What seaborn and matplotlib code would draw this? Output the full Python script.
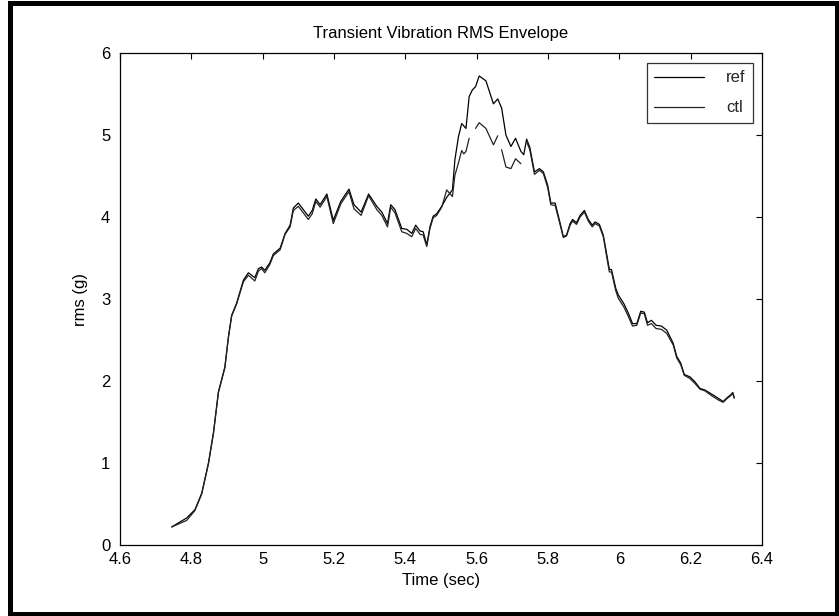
import numpy as np
import pandas as pd
import matplotlib
matplotlib.use("Agg")
import matplotlib.pyplot as plt
from matplotlib.lines import Line2D
from matplotlib.patches import Rectangle
import seaborn as sns

# ---- data ----
time = [4.745, 4.787, 4.810, 4.829, 4.848, 4.862, 4.876, 4.894, 4.904, 4.913,
        4.927, 4.946, 4.960, 4.978, 4.988, 4.997, 5.006, 5.020, 5.030, 5.049,
        5.063, 5.077, 5.086, 5.100, 5.128, 5.139, 5.149, 5.161, 5.180, 5.198,
        5.219, 5.242, 5.256, 5.276, 5.297, 5.320, 5.334, 5.350, 5.359, 5.371,
        5.390, 5.404, 5.418, 5.429, 5.441, 5.450, 5.460, 5.469, 5.478, 5.488,
        5.502, 5.516, 5.532, 5.539, 5.549, 5.558, 5.564, 5.570, 5.579, 5.588,
        5.597, 5.607, 5.626, 5.647, 5.659, 5.664, 5.670, 5.682, 5.696, 5.709,
        5.724, 5.732, 5.740, 5.749, 5.762, 5.776, 5.787, 5.799, 5.808, 5.820,
        5.832, 5.843, 5.852, 5.862, 5.869, 5.880, 5.890, 5.902, 5.913, 5.924,
        5.932, 5.944, 5.955, 5.964, 5.972, 5.978, 5.990, 5.997, 6.013, 6.025,
        6.037, 6.049, 6.060, 6.070, 6.079, 6.090, 6.103, 6.118, 6.133, 6.151,
        6.161, 6.172, 6.182, 6.198, 6.212, 6.226, 6.240, 6.259, 6.277, 6.291,
        6.303, 6.312, 6.318, 6.322]

ref = [0.22, 0.33, 0.43, 0.63, 1.00, 1.37, 1.87, 2.17, 2.54, 2.80,
       2.95, 3.23, 3.32, 3.26, 3.37, 3.39, 3.35, 3.44, 3.55, 3.62,
       3.80, 3.90, 4.11, 4.17, 4.01, 4.08, 4.22, 4.15, 4.28, 3.96,
       4.19, 4.34, 4.15, 4.06, 4.28, 4.13, 4.06, 3.92, 4.15, 4.09,
       3.86, 3.85, 3.80, 3.90, 3.83, 3.82, 3.66, 3.88, 4.01, 4.04,
       4.13, 4.24, 4.33, 4.70, 4.98, 5.14, 5.11, 5.08, 5.47, 5.55,
       5.59, 5.72, 5.66, 5.38, 5.44, 5.39, 5.33, 5.00, 4.86, 4.96,
       4.80, 4.76, 4.95, 4.85, 4.55, 4.59, 4.55, 4.39, 4.17, 4.17,
       3.96, 3.76, 3.78, 3.92, 3.97, 3.93, 4.02, 4.08, 3.97, 3.90,
       3.94, 3.91, 3.78, 3.56, 3.36, 3.36, 3.13, 3.05, 2.94, 2.83,
       2.70, 2.70, 2.85, 2.84, 2.71, 2.74, 2.68, 2.67, 2.62, 2.46,
       2.30, 2.22, 2.08, 2.05, 1.99, 1.91, 1.89, 1.84, 1.79, 1.75,
       1.80, 1.83, 1.86, 1.80]

nan = np.nan
ctl = [0.22, 0.30, 0.42, 0.62, 0.99, 1.36, 1.86, 2.16, 2.53, 2.79,
       2.94, 3.21, 3.29, 3.22, 3.34, 3.37, 3.32, 3.42, 3.53, 3.60,
       3.79, 3.88, 4.08, 4.13, 3.97, 4.04, 4.19, 4.12, 4.25, 3.92,
       4.16, 4.31, 4.10, 4.02, 4.26, 4.09, 4.02, 3.88, 4.12, 4.05,
       3.82, 3.80, 3.76, 3.86, 3.79, 3.78, 3.64, 3.86, 3.99, 4.02,
       4.12, 4.33, 4.25, 4.51, 4.66, 4.81, 4.77, 4.80, 4.96, nan,
       5.08, 5.15, 5.08, 4.88, 4.99, nan, 4.82, 4.61, 4.59, 4.71,
       4.65, nan, 4.92, 4.82, 4.52, 4.57, 4.53, 4.36, 4.15, 4.14,
       3.94, 3.75, 3.77, 3.90, 3.95, 3.91, 4.00, 4.06, 3.95, 3.88,
       3.92, 3.89, 3.76, 3.53, 3.33, 3.33, 3.10, 3.01, 2.90, 2.79,
       2.67, 2.68, 2.83, 2.82, 2.68, 2.70, 2.64, 2.63, 2.58, 2.44,
       2.28, 2.20, 2.07, 2.03, 1.97, 1.90, 1.88, 1.82, 1.77, 1.74,
       1.79, 1.82, 1.85, 1.79]

series_labels = ["ref", "ctl"]
title = "Transient Vibration RMS Envelope"
xlabel = "Time (sec)"
ylabel = "rms (g)"
xticks = [4.6, 4.8, 5.0, 5.2, 5.4, 5.6, 5.8, 6.0, 6.2, 6.4]
xticklabels = ["4.6", "4.8", "5", "5.2", "5.4", "5.6", "5.8", "6", "6.2", "6.4"]
yticks = [0, 1, 2, 3, 4, 5, 6]

# ---- build tidy frames ----
ref_df = pd.DataFrame({"time": time, "rms": ref})
ctl_arr = np.array(ctl, dtype=float)
seg = np.cumsum(np.isnan(ctl_arr))
ctl_df = pd.DataFrame({"time": time, "rms": ctl_arr, "seg": seg}).dropna()

sns.set_theme(style="white")
plt.rcParams["font.family"] = ["Liberation Sans", "DejaVu Sans"]

fs = 12
fig = plt.figure(figsize=(8.39, 6.16), dpi=100)
ax = fig.add_axes([120 / 839, 71 / 616, 642 / 839, 492 / 616])

lw = 0.9
sns.lineplot(data=ref_df, x="time", y="rms", ax=ax, color="black",
             linewidth=lw, estimator=None, sort=False)
sns.lineplot(data=ctl_df, x="time", y="rms", units="seg", ax=ax,
             color="#222222", linewidth=lw, estimator=None, sort=False)

ax.set_xlim(4.6, 6.4)
ax.set_ylim(0, 6)
ax.set_xticks(xticks)
ax.set_xticklabels(xticklabels)
ax.set_yticks(yticks)
ax.tick_params(direction="in", length=4.5, width=0.8, colors="black",
               labelsize=fs, top=True, right=True, pad=5)
ax.tick_params(axis="y", pad=7)
for sp in ax.spines.values():
    sp.set_visible(True)
    sp.set_color("black")
    sp.set_linewidth(0.9)

ax.set_title(title, fontsize=fs, pad=11, color="black")
ax.set_xlabel(xlabel, fontsize=fs, labelpad=4, color="black")
ax.set_ylabel(ylabel, fontsize=fs, labelpad=9, color="black")

handles = [Line2D([0], [0], color="black", lw=lw),
           Line2D([0], [0], color="#222222", lw=lw)]
leg = ax.legend(handles, series_labels, loc="upper right", fontsize=fs,
                frameon=True, fancybox=False, edgecolor="black",
                handlelength=3.0, handletextpad=1.3, borderpad=0.45,
                labelspacing=0.9, borderaxespad=0,
                bbox_to_anchor=(1 - 9 / 642, 1 - 10 / 492))
leg.get_frame().set_linewidth(0.9)

# outer figure frame
fig.patches.append(Rectangle((10 / 839, 2.5 / 616), 827 / 839, 611 / 616,
                             transform=fig.transFigure, fill=False,
                             edgecolor="black", linewidth=3.6))

fig.savefig("out.png", dpi=100)
